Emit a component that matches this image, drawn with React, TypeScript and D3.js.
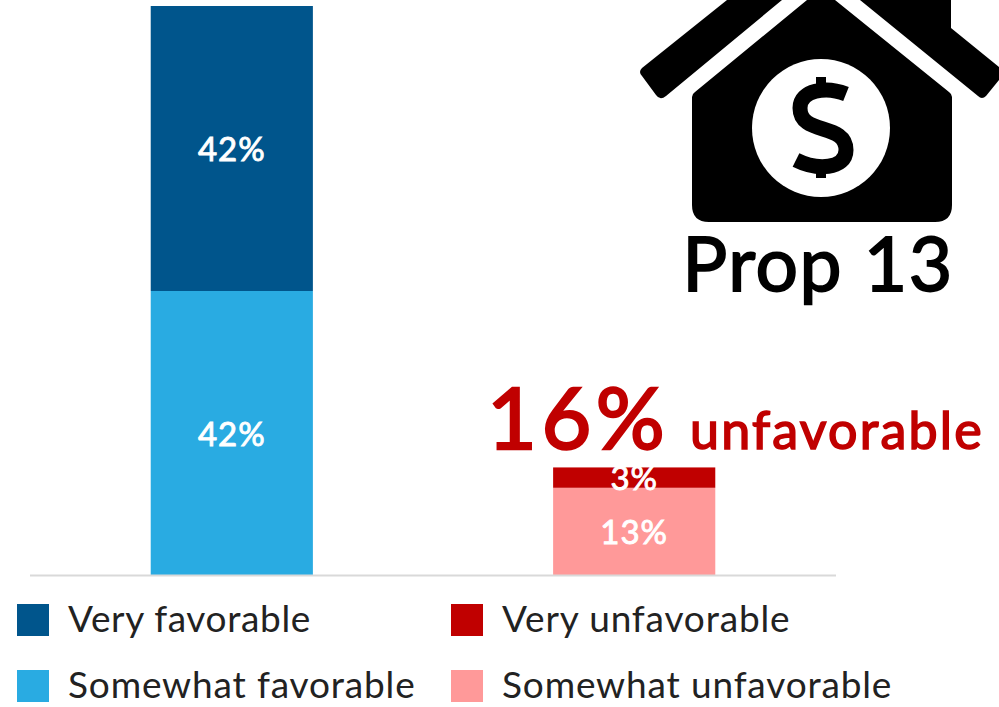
import React from "react";
import * as d3 from "d3";

const categories = ["Favorable", "Unfavorable"];
const veryFavorable = [42, 0];
const somewhatFavorable = [42, 0];
const somewhatUnfavorable = [0, 13];
const veryUnfavorable = [0, 3];
const legendLeft = ["Very favorable", "Somewhat favorable"];
const legendRight = ["Very unfavorable", "Somewhat unfavorable"];
const colors = { vf: "#00558C", sf: "#29ABE2", vu: "#C00000", su: "#FF9999" };

const font = "Lato, 'Open Sans', sans-serif";

export default function App() {
  const x = d3.scaleBand().domain(categories).range([30, 836]).paddingInner(0.597).paddingOuter(0.3);
  const y = d3.scaleLinear().domain([0, 84]).range([576, 6]);
  const rows = categories.map((c, i) => {
    const stack = [
      { v: somewhatFavorable[i], c: colors.sf },
      { v: veryFavorable[i], c: colors.vf },
      { v: somewhatUnfavorable[i], c: colors.su },
      { v: veryUnfavorable[i], c: colors.vu },
    ];
    let acc = 0;
    return stack.filter(s => s.v > 0).map(s => {
      const r = { ...s, y0: acc, y1: acc + s.v, cat: c };
      acc += s.v;
      return r;
    });
  });
  return (
    <svg width={999} height={707} style={{ position: "absolute", left: 0, top: 0 }} fontFamily={font}>
      {rows.flat().map((s, i) => (
        <rect key={i} x={x(s.cat)} width={x.bandwidth()} y={y(s.y1)} height={y(s.y0) - y(s.y1)} fill={s.c} />
      ))}
      {rows.flat().map((s, i) => (
        <text key={i} x={x(s.cat)! + x.bandwidth() / 2} y={(y(s.y0) + y(s.y1)) / 2 + 12} textAnchor="middle" fontSize={33} letterSpacing={1} fill="#fff" stroke="#fff" strokeWidth={0.9}>{s.v}%</text>
      ))}
      <line x1={30} x2={836} y1={575.5} y2={575.5} stroke="#D9D9D9" strokeWidth={2} />
      {legendLeft.map((t, i) => (
        <g key={t}>
          <rect x={17} y={604 + i * 66} width={32} height={32} fill={i ? colors.sf : colors.vf} />
          <text x={68} y={632 + i * 66} fontSize={37} letterSpacing={i ? 0.85 : 0.65} fill="#222">{t}</text>
        </g>
      ))}
      {legendRight.map((t, i) => (
        <g key={t}>
          <rect x={451} y={604 + i * 66} width={32} height={32} fill={i ? colors.su : colors.vu} />
          <text x={502} y={632 + i * 66} fontSize={37} letterSpacing={0.85} fill="#222">{t}</text>
        </g>
      ))}
      <text x={487} y={449} fontSize={86} letterSpacing={4.5} fill="#C00000" stroke="#C00000" strokeWidth={2.4}>16%</text>
      <text x={690} y={449} fontSize={52} letterSpacing={2.2} fill="#C00000" stroke="#C00000" strokeWidth={1.6}>unfavorable</text>
      <text x={818} y={291} textAnchor="middle" fontSize={75} letterSpacing={1.5} fill="#000" stroke="#000" strokeWidth={1.8}>Prop 13</text>
      <g>
        <path d="M692 97 Q692 94 695 92 L807 0 H835 L949 92 Q952 94 952 97 V205 Q952 222 935 222 H709 Q692 222 692 205 Z" fill="#000" />
        <path d="M727 0 L642 68 Q638 72 642 76 L656 95 Q660 101 666 96 L782 0 Z" fill="#000" />
        <path d="M860 0 L978 96 Q982 100 986 96 L999 80 V67 L951 28 V0 Z" fill="#000" />
        <circle cx={821} cy={128} r={69} fill="#fff" />
        <path d="M846 94 C826 86 800 90 800 108 C800 136 846 122 846 150 C846 170 816 170 796 160" fill="none" stroke="#000" strokeWidth={15} />
        <rect x={816} y={77} width={10} height={14} fill="#000" />
        <rect x={816} y={165} width={10} height={13} fill="#000" />
      </g>
    </svg>
  );
}
